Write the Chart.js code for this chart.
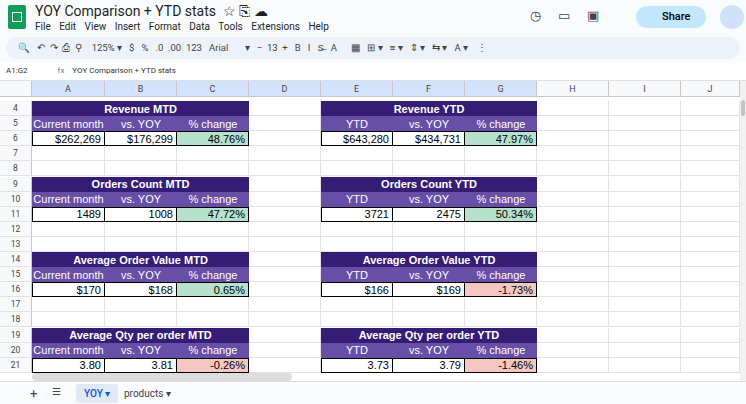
<!DOCTYPE html>
<html><head><meta charset="utf-8">
<script src="https://cdn.jsdelivr.net/npm/chart.js@4"></script>
<style>
body{margin:0;width:746px;height:404px;overflow:hidden;font-family:Roboto,Arial,sans-serif;background:#f9fbfd;position:relative}
.abs{position:absolute}
.cell{position:absolute;box-sizing:border-box;font-family:"Liberation Sans",Arial,sans-serif;font-size:11px;display:flex;align-items:center;padding:0 3px;white-space:nowrap;overflow:hidden}
</style></head><body>
<div class="abs" style="left:8px;top:5px;width:18px;height:24px;background:#0f9d58;border-radius:2px"></div>
<div class="abs" style="left:12px;top:12px;width:10px;height:10px;border:1.5px solid #fff;box-sizing:border-box"></div>
<div class="abs" style="left:35px;top:3px;font-size:14px;color:#1f1f1f">YOY Comparison + YTD stats &nbsp;☆ ⎘ ☁</div>
<div class="abs" style="left:35px;top:21px;font-size:10px;color:#1f1f1f;word-spacing:6px">File Edit View Insert Format Data Tools Extensions Help</div>
<div class="abs" style="left:636px;top:6px;width:70px;height:22px;background:#c2e7ff;border-radius:12px;font-size:11px;line-height:22px;text-indent:26px;font-weight:500">Share</div>
<div class="abs" style="left:530px;top:8px;font-size:13px;color:#444;word-spacing:14px">◷ ▭ ▣</div>
<div class="abs" style="left:720px;top:5px;width:24px;height:24px;border-radius:12px;background:#d0e1f9"></div>
<div class="abs" style="left:6px;top:37px;width:734px;height:22px;background:#edf2fa;border-radius:12px;font-size:9.5px;color:#444;line-height:22px;text-indent:12px;white-space:pre">🔍   ↶  ↷  ⎙  ⚲    125% ▾   $   %   .0  .00  123   Arial       ▾   −  13  +   B   I   S̶   A      ▦   ⊞ ▾   ≡ ▾   ⇕ ▾   ⇆ ▾   A ▾    ⋮</div>
<div class="abs" style="left:0;top:62px;width:746px;height:18px;background:#fff;border-bottom:1px solid #e0e0e0;font-size:8px;line-height:18px;color:#333"><span style="margin-left:6px">A1:G2</span><span style="margin-left:30px;color:#777">fx</span><span style="margin-left:8px">YOY Comparison + YTD stats</span></div>
<div id="grid" class="abs" style="left:0;top:81px;width:740px;height:300px;background:#fff;overflow:hidden"></div>
<canvas id="c" class="abs" style="left:0;top:0;width:1px;height:1px;opacity:0"></canvas>
<div class="abs" style="left:740px;top:81px;width:6px;height:300px;background:#f1f1f1"></div>
<div class="abs" style="left:741px;top:100px;width:4px;height:16px;background:#c4c4c4;border-radius:2px"></div>
<div class="abs" style="left:0;top:381px;width:746px;height:23px;background:#f9fbfd;border-top:1px solid #ddd;font-size:10px;color:#444">
<span class="abs" style="left:30px;top:4px;font-size:13px">+</span><span class="abs" style="left:52px;top:4px">☰</span>
<span class="abs" style="left:76px;top:2px;width:42px;height:19px;background:#e1e9f7;border-radius:3px;color:#0b57d0;line-height:19px;text-indent:8px;font-weight:500">YOY ▾</span>
<span class="abs" style="left:124px;top:6px">products ▾</span></div>
<script>
const colLetters=['A','B','C','D','E','F','G','H','I','J'];
const colX=[32,105,177,249,321,393,465,537,609,681,740];
const rowNums=[4,5,6,7,8,9,10,11,12,13,14,15,16,17,18,19,20,21];
const blockTitlesLeft=['Revenue MTD','Orders Count MTD','Average Order Value MTD','Average Qty per order MTD'];
const blockTitlesRight=['Revenue YTD','Orders Count YTD','Average Order Value YTD','Average Qty per order YTD'];
const currentVals=['$262,269','1489','$170','3.80'];
const yoyMtd=['$176,299','1008','$168','3.81'];
const pctMtd=['48.76%','47.72%','0.65%','-0.26%'];
const ytdVals=['$643,280','3721','$166','3.73'];
const yoyYtd=['$434,731','2475','$169','3.79'];
const pctYtd=['47.97%','50.34%','-1.73%','-1.46%'];
const g=document.getElementById('grid');
const H=16,RH=15.1,top0=20;
function cell(x,y,w,h,txt,st){const d=document.createElement('div');d.className='cell';d.style.cssText+=`left:${x}px;top:${y}px;width:${w}px;height:${h}px;`+(st||'');d.textContent=txt;g.appendChild(d);return d;}
// headers
cell(0,0,32,H,'', 'background:#f8f9fa;border-right:1px solid #c7c7c7;border-bottom:1px solid #c7c7c7');
colLetters.forEach((l,i)=>cell(colX[i],0,colX[i+1]-colX[i],H,l,'justify-content:center;background:'+(i<7?'#d3e3fd':'#f8f9fa')+';border-right:1px solid #c7c7c7;border-bottom:1px solid #c7c7c7;font-family:Roboto;font-size:9px;color:#444'));
rowNums.forEach((r,i)=>{const y=top0+i*RH;cell(0,y,32,RH,r,'justify-content:center;background:#f8f9fa;border-right:1px solid #c7c7c7;border-bottom:1px solid #e2e2e2;font-family:Roboto;font-size:8.5px;color:#444');
 for(let c=0;c<10;c++)cell(colX[c],y,colX[c+1]-colX[c],RH,'','border-right:1px solid #e2e2e2;border-bottom:1px solid #e2e2e2');});
function block(k,c0,title,subs,vals,pct){const y=top0+k*5*RH;const x=colX[c0],w=colX[c0+3]-x;
 cell(x,y,w,RH,title,'justify-content:center;background:#351c75;color:#fff;font-weight:bold');
 subs.forEach((s,j)=>cell(colX[c0+j],y+RH,colX[c0+j+1]-colX[c0+j],RH,s,'justify-content:center;background:#674ea7;color:#fff'));
 const neg=pct.startsWith('-');
 [vals[0],vals[1],pct].forEach((v,j)=>cell(colX[c0+j],y+2*RH,colX[c0+j+1]-colX[c0+j],RH,v,'justify-content:flex-end;color:#000;border:1px solid #000;border-left:'+(j?'none':'1px solid #000')+';background:'+(j==2?(neg?'#f4c7c3':'#b7e1cd'):'#fff')));}
for(let k=0;k<4;k++){block(k,0,blockTitlesLeft[k],['Current month','vs. YOY','% change'],[currentVals[k],yoyMtd[k]],pctMtd[k]);
 block(k,4,blockTitlesRight[k],['YTD','vs. YOY','% change'],[ytdVals[k],yoyYtd[k]],pctYtd[k]);}
cell(32,292,260,8,'','background:#ddd;border-radius:4px');
new Chart(document.getElementById('c'),{type:'bar',data:{labels:[],datasets:[]},options:{animation:false,responsive:false,plugins:{legend:{display:false}}}});
</script></body></html>
